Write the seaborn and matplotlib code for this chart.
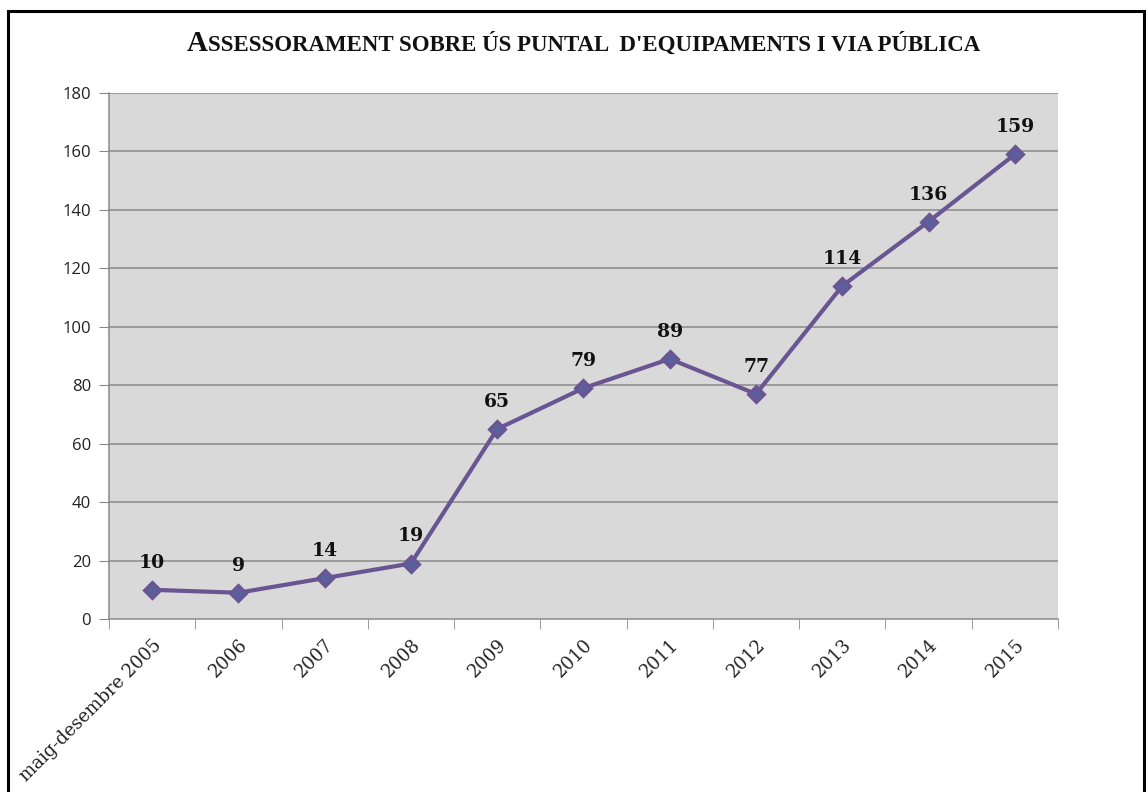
import matplotlib
matplotlib.use('Agg')
import matplotlib.pyplot as plt
from matplotlib.patches import Rectangle
import seaborn as sns
import pandas as pd

# data
periods = ['maig-desembre 2005', '2006', '2007', '2008', '2009', '2010',
           '2011', '2012', '2013', '2014', '2015']
counts = [10, 9, 14, 19, 65, 79, 89, 77, 114, 136, 159]
yticks = [0, 20, 40, 60, 80, 100, 120, 140, 160, 180]

df = pd.DataFrame({'period': periods, 'count': counts})

sns.set_style('white')
fig = plt.figure(figsize=(11.48, 7.92), dpi=100)
ax = fig.add_axes([0.0949, 0.2184, 0.8267, 0.6642])

# outer black frame (chart border, bottom edge cropped off)
fig.patches.append(Rectangle((8 / 1148, -0.05), 1136 / 1148, (792 - 11) / 792 + 0.05,
                             transform=fig.transFigure, fill=False,
                             edgecolor='black', linewidth=2.2))

ax.set_facecolor('#d9d9d9')
for y in yticks[1:]:
    ax.axhline(y, color='#8a8a8a', linewidth=1.1, zorder=1)

sns.pointplot(data=df, x='period', y='count', color='#6a5593', markers='D',
              linewidth=3, markersize=8, ax=ax, zorder=3,
              markeredgecolor='#6a5593', markerfacecolor='#5a5f9e')

for i, v in enumerate(counts):
    ax.annotate(str(v), (i, v), xytext=(0, 13), textcoords='offset points',
                ha='center', va='bottom', fontsize=13.5, fontweight='bold',
                family='DejaVu Serif', color='#111111')

ax.set_xlim(-0.5, len(periods) - 0.5)
ax.set_ylim(0, 180)
ax.set_yticks(yticks)
ax.set_yticklabels([str(t) for t in yticks], fontsize=12, family='Open Sans', color='#222222')

ax.set_xticks(range(len(periods)))
ax.set_xticklabels(periods, rotation=45, ha='right', rotation_mode='anchor',
                   fontsize=13, family='DejaVu Serif', color='#222222')
ax.set_xticks([i - 0.5 for i in range(len(periods) + 1)], minor=True)
ax.tick_params(axis='x', which='major', length=0, pad=12)
ax.tick_params(axis='x', which='minor', length=7, color='#8a8a8a', direction='out', bottom=True)
ax.tick_params(axis='y', length=7, color='#8a8a8a', direction='out', left=True, pad=6)

ax.set_xlabel('')
ax.set_ylabel('')
for side in ['top', 'right']:
    ax.spines[side].set_visible(False)
for side in ['left', 'bottom']:
    ax.spines[side].set_color('#8a8a8a')
    ax.spines[side].set_linewidth(1.1)

# small-caps style title: big first letter, rest in smaller capitals
rest = "SSESSORAMENT SOBRE ÚS PUNTAL  D'EQUIPAMENTS I VIA PÚBLICA"
renderer = fig.canvas.get_renderer()
t1 = fig.text(0, 0.948, 'A', ha='left', va='baseline', fontsize=21, fontweight='bold',
              family='Liberation Serif', color='#111111')
t2 = fig.text(0, 0.948, rest, ha='left', va='baseline', fontsize=16.5, fontweight='bold',
              family='Liberation Serif', color='#111111')
w1 = t1.get_window_extent(renderer).width / 1148
w2 = t2.get_window_extent(renderer).width / 1148
x0 = 0.508 - (w1 + w2) / 2
t1.set_x(x0)
t2.set_x(x0 + w1)
t1.set_y(0.936)
t2.set_y(0.936)

fig.savefig('out.png', dpi=100)
